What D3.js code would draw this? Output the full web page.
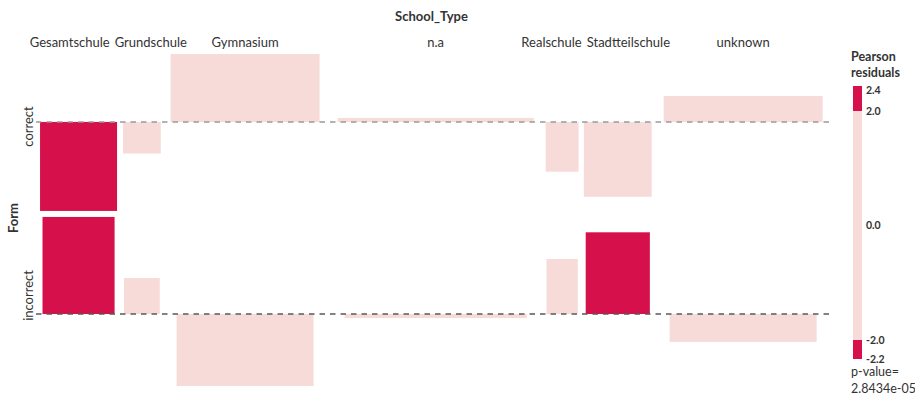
<!DOCTYPE html>
<html>
<head>
<meta charset="utf-8">
<script src="https://cdn.jsdelivr.net/npm/d3@7"></script>
<style>
  html, body { margin: 0; padding: 0; background: #fff; }
  svg { display: block; font-family: Lato, "Open Sans", sans-serif; }
</style>
</head>
<body>
<svg id="chart" width="915" height="397"></svg>
<script>
// Association plot of Form by School_Type: bar width ~ sqrt(expected count),
// bar height ~ Pearson residual, drawn up/down from each row's baseline.
const schoolTypes = ["Gesamtschule", "Grundschule", "Gymnasium", "n.a", "Realschule", "Stadtteilschule", "unknown"];
const formLevels = ["correct", "incorrect"];
const expectedCorrect   = [121, 29, 453, 784, 22, 94, 516];
const expectedIncorrect = [106, 26, 383, 676, 20, 84, 441];
const residualCorrect   = [-2.20, -0.78,  1.68,  0.10, -1.23, -1.85,  0.64];
const residualIncorrect = [ 2.40,  0.89, -1.78, -0.10,  1.36,  2.02, -0.69];
const residualCutoffs = [-2, 0, 2];
const pValue = 2.8434e-05;

const expected = [expectedCorrect, expectedIncorrect];
const residuals = [residualCorrect, residualIncorrect];

const colDark = "#d5104a", colLight = "#f7dbd8", textCol = "#333";
const svg = d3.select("#chart");

// horizontal layout: one cell per school type, sized by the wider of its two bars
const colSpace = 0.105;
const plotLeft = 36, plotRight = 831;
const colUnits = schoolTypes.map((_, i) => Math.max(Math.sqrt(expectedCorrect[i]), Math.sqrt(expectedIncorrect[i])) * (1 + colSpace));
const colStart = d3.cumsum([0, ...colUnits]);
const x = d3.scaleLinear().domain([0, colStart[colStart.length - 1]]).range([plotLeft, plotRight]);
const pxPerUnit = x(1) - x(0);
const colCenter = i => x(colStart[i] + colUnits[i] / 2);

// vertical layout: each row tall enough for its largest positive and negative residual
const plotTop = 54, plotBottom = 386, rowGap = 6;
const rowExt = residuals.map(r => ({ pos: Math.max(0, d3.max(r)), neg: Math.max(0, -d3.min(r)) }));
const k = (plotBottom - plotTop - rowGap * (formLevels.length - 1)) / d3.sum(rowExt, e => e.pos + e.neg);
let cursor = plotTop;
const rowScales = rowExt.map(e => {
  const top = cursor, bottom = cursor + (e.pos + e.neg) * k;
  cursor = bottom + rowGap;
  return d3.scaleLinear().domain([-e.neg, e.pos]).range([bottom, top]);
});

const shade = r => Math.abs(r) > 2 ? colDark : colLight;

// bars
formLevels.forEach((lvl, j) => {
  const y = rowScales[j];
  svg.append("g").selectAll("rect")
    .data(schoolTypes.map((s, i) => ({ s, i, e: expected[j][i], r: residuals[j][i] })))
    .join("rect")
    .attr("x", d => colCenter(d.i) - Math.sqrt(d.e) * pxPerUnit / 2)
    .attr("width", d => Math.sqrt(d.e) * pxPerUnit)
    .attr("y", d => Math.min(y(0), y(d.r)))
    .attr("height", d => Math.abs(y(d.r) - y(0)))
    .attr("fill", d => shade(d.r));
});

// baselines
const baseStroke = ["#9a9a9a", "#5a5a5a"];
formLevels.forEach((lvl, j) => {
  const y0 = rowScales[j](0);
  svg.append("line")
    .attr("x1", plotLeft).attr("x2", plotRight)
    .attr("y1", y0).attr("y2", y0)
    .attr("stroke", baseStroke[j]).attr("stroke-width", 1.5)
    .attr("stroke-dasharray", "5.5,5");
});

// column labels, pushed apart where they would collide
const labelY = 47;
const colLabels = svg.append("g").selectAll("text")
  .data(schoolTypes).join("text")
  .attr("y", labelY).attr("text-anchor", "middle")
  .attr("font-size", 13).attr("fill", textCol)
  .text(d => d);
const lab = schoolTypes.map((s, i) => ({ c: colCenter(i), w: colLabels.nodes()[i].getComputedTextLength() }));
for (let it = 0; it < 50; it++) {
  for (let i = 0; i < lab.length - 1; i++) {
    const need = (lab[i].w + lab[i + 1].w) / 2 + 5;
    const have = lab[i + 1].c - lab[i].c;
    if (have < need) {
      const d = (need - have) / 2;
      lab[i].c -= d; lab[i + 1].c += d;
    }
  }
}
colLabels.attr("x", (d, i) => lab[i].c);

// axis titles
svg.append("text")
  .attr("x", x(colStart[colStart.length - 1] / 2) - 2).attr("y", 21)
  .attr("text-anchor", "middle").attr("font-size", 13).attr("font-weight", "bold")
  .attr("fill", textCol).text("School_Type");

const plotMidY = (plotTop + plotBottom) / 2;
svg.append("text")
  .attr("transform", `translate(18,${plotMidY - 2}) rotate(-90)`)
  .attr("text-anchor", "middle").attr("font-size", 13).attr("font-weight", "bold")
  .attr("fill", textCol).text("Form");

// row labels, centred on their row cell and nudged slightly upwards
formLevels.forEach((lvl, j) => {
  const r = rowScales[j].range();
  const cy = (r[0] + r[1]) / 2 - 6;
  svg.append("text")
    .attr("transform", `translate(33,${cy}) rotate(-90)`)
    .attr("text-anchor", "middle").attr("font-size", 13)
    .attr("fill", textCol).text(lvl);
});

// legend: residual colour bar
const allRes = residualCorrect.concat(residualIncorrect);
const rMin = d3.min(allRes), rMax = d3.max(allRes);
const legX = 853, legW = 9;
const legY = d3.scaleLinear()
  .domain([rMin, residualCutoffs[0], residualCutoffs[1], residualCutoffs[2], rMax])
  .range([359, 340, 225.5, 111, 86]);
const segs = [[rMin, residualCutoffs[0]], [residualCutoffs[0], residualCutoffs[2]], [residualCutoffs[2], rMax]];
svg.append("g").selectAll("rect").data(segs).join("rect")
  .attr("x", legX).attr("width", legW)
  .attr("y", d => legY(d[1]))
  .attr("height", d => legY(d[0]) - legY(d[1]))
  .attr("fill", d => shade((d[0] + d[1]) / 2));

const legTicks = [rMax, residualCutoffs[2], residualCutoffs[1], residualCutoffs[0], rMin];
svg.append("g").selectAll("text").data(legTicks).join("text")
  .attr("x", legX + legW + 4)
  .attr("y", d => Math.max(legY(d), legY(rMax) + 4))
  .attr("dy", "0.35em")
  .attr("font-size", 10.5).attr("font-weight", "bold").attr("fill", textCol)
  .text(d => d3.format(".1f")(d).replace("−", "-"));

svg.append("text").attr("x", 851).attr("y", 61)
  .attr("font-size", 12.5).attr("font-weight", "bold").attr("fill", textCol)
  .text("Pearson");
svg.append("text").attr("x", 851).attr("y", 77)
  .attr("font-size", 12.5).attr("font-weight", "bold").attr("fill", textCol)
  .text("residuals");
svg.append("text").attr("x", 851).attr("y", 376)
  .attr("font-size", 12.5).attr("fill", textCol)
  .text("p-value=");
// exponent written with two digits, e.g. e-05
const pText = pValue.toExponential(4).replace(/e([+-])(\d)$/, "e$10$2");
svg.append("text").attr("x", 851).attr("y", 393)
  .attr("font-size", 12.5).attr("fill", textCol)
  .text(pText);
</script>
</body>
</html>
